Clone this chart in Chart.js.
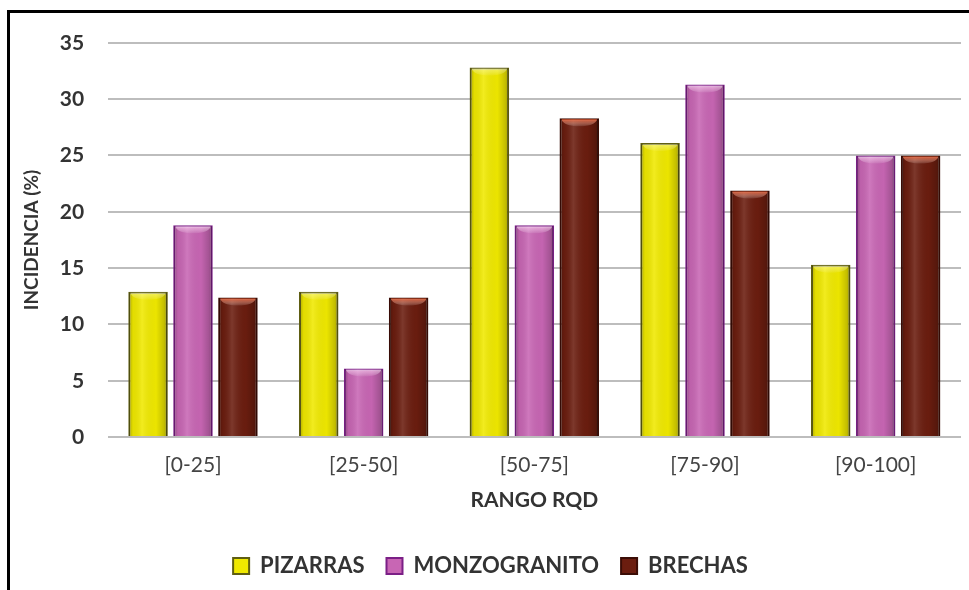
<!DOCTYPE html>
<html>
<head>
<meta charset="utf-8">
<script src="https://cdn.jsdelivr.net/npm/chart.js@4/dist/chart.umd.min.js"></script>
<style>
  html, body { margin: 0; padding: 0; background: #fff; }
  .frame {
    position: absolute; left: 7px; top: 10px; right: 0; bottom: 0;
    border-top: 3px solid #000; border-left: 3px solid #000;
  }
  .frame canvas { display: block; }
</style>
</head>
<body>
<div class="frame">
  <canvas id="rqdChart" width="959" height="577"></canvas>
</div>
<script>
// RQD ranges and incidence (%) per rock type
var rangos = ['[0-25]', '[25-50]', '[50-75]', '[75-90]', '[90-100]'];
var pizarras = [12.9, 12.9, 32.8, 26.1, 15.3];
var monzogranito = [18.8, 6.1, 18.8, 31.3, 25.0];
var brechas = [12.4, 12.4, 28.3, 21.9, 25.0];
var yTicks = [0, 5, 10, 15, 20, 25, 30, 35];

var FONT = 'Lato, "Open Sans", sans-serif';

// shading so the bars look like rounded columns, plus a lighter cap on top
var cylinderShade = {
    id: 'cylinderShade',
    afterDatasetsDraw: function (chart) {
        var ctx = chart.ctx;
        chart.data.datasets.forEach(function (ds, i) {
            var meta = chart.getDatasetMeta(i);
            meta.data.forEach(function (bar) {
                var left = bar.x - bar.width / 2;
                var right = bar.x + bar.width / 2;
                var top = bar.y;
                var h = bar.base - bar.y;
                var g = ctx.createLinearGradient(left, 0, right, 0);
                g.addColorStop(0, 'rgba(0,0,0,0.30)');
                g.addColorStop(0.12, 'rgba(0,0,0,0.05)');
                g.addColorStop(0.35, 'rgba(255,255,255,0.12)');
                g.addColorStop(0.7, 'rgba(0,0,0,0.02)');
                g.addColorStop(0.9, 'rgba(0,0,0,0.18)');
                g.addColorStop(1, 'rgba(0,0,0,0.35)');
                ctx.save();
                ctx.fillStyle = g;
                ctx.fillRect(left + 1, top + 1, bar.width - 2, h - 1);
                // top cap
                var cap = ctx.createLinearGradient(0, top, 0, top + 9);
                cap.addColorStop(0, ds.capColor);
                cap.addColorStop(1, 'rgba(255,255,255,0)');
                ctx.fillStyle = cap;
                ctx.beginPath();
                ctx.moveTo(left + 2, top + 1);
                ctx.lineTo(right - 2, top + 1);
                ctx.quadraticCurveTo(right - 4, top + 8, bar.x, top + 8);
                ctx.quadraticCurveTo(left + 4, top + 8, left + 2, top + 1);
                ctx.fill();
                ctx.restore();
            });
        });
    }
};

new Chart(document.getElementById('rqdChart').getContext('2d'), {
    type: 'bar',
    data: {
        labels: rangos,
        datasets: [{
            label: 'PIZARRAS',
            data: pizarras,
            backgroundColor: '#f0e900',
            borderColor: '#5f5e12',
            borderWidth: 2,
            capColor: 'rgba(255,255,200,0.5)'
        }, {
            label: 'MONZOGRANITO',
            data: monzogranito,
            backgroundColor: '#c866b4',
            borderColor: '#7b1f86',
            borderWidth: 2,
            capColor: 'rgba(255,210,245,0.7)'
        }, {
            label: 'BRECHAS',
            data: brechas,
            backgroundColor: '#6b1d0f',
            borderColor: '#3b0d06',
            borderWidth: 2,
            capColor: 'rgba(235,70,20,0.95)'
        }]
    },
    options: {
        responsive: false,
        animation: false,
        categoryPercentage: 0.79,
        barPercentage: 0.88,
        layout: { padding: { left: 10, right: 8, top: 7, bottom: 3 } },
        plugins: {
            tooltip: { enabled: false },
            legend: {
                position: 'bottom',
                labels: {
                    boxWidth: 16,
                    boxHeight: 16,
                    padding: 22,
                    color: '#333',
                    font: { family: FONT, size: 22, weight: 'bold' }
                }
            }
        },
        scales: {
            x: {
                grid: { display: false, drawTicks: false },
                border: { display: false },
                ticks: {
                    color: '#444',
                    padding: 16,
                    font: { family: FONT, size: 21 }
                },
                title: {
                    display: true,
                    text: 'RANGO RQD',
                    color: '#333',
                    padding: { top: -7, bottom: 20.5 },
                    font: { family: FONT, size: 21, weight: 'bold' }
                }
            },
            y: {
                min: 0,
                max: 35,
                afterBuildTicks: function (axis) {
                    axis.ticks = yTicks.map(function (v) { return { value: v }; });
                },
                grid: { color: '#bdbdbd', lineWidth: 2, drawTicks: false },
                border: { display: false },
                ticks: {
                    color: '#333',
                    padding: 23.5,
                    font: { family: FONT, size: 21, weight: 'bold', lineHeight: 0.6 }
                },
                title: {
                    display: true,
                    text: 'INCIDENCIA (%)',
                    color: '#333',
                    padding: { top: 0, bottom: -6.5 },
                    font: { family: FONT, size: 19, weight: 'bold' }
                }
            }
        }
    },
    plugins: [cylinderShade]
});
</script>
</body>
</html>
